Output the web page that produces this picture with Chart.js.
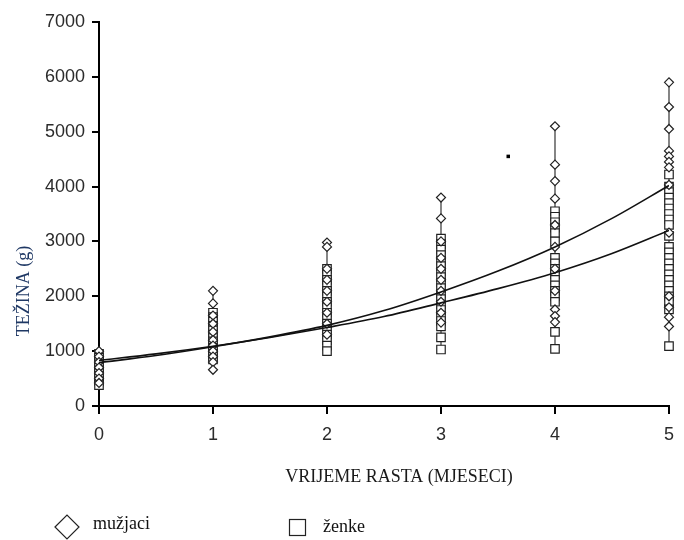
<!DOCTYPE html>
<html>
<head>
<meta charset="utf-8">
<script src="https://cdn.jsdelivr.net/npm/chart.js@4.4.1/dist/chart.umd.min.js"></script>
<style>
  html, body { margin: 0; padding: 0; background: #fff; }
  #wrap { width: 684px; height: 540px; position: relative; }
</style>
</head>
<body>
<div id="wrap"><canvas id="chartRast"></canvas></div>
<script>
// ===== TEŽINA vs VRIJEME RASTA =====

const months = [0, 1, 2, 3, 4, 5];

// izmjerene težine (g) po mjesecu
const maleWeights = [
  [1000, 900, 800, 700, 600, 500, 420],
  [2100, 1870, 1650, 1500, 1350, 1200, 1100, 1000, 900, 800, 660],
  [2980, 2900, 2500, 2300, 2100, 1900, 1700, 1500, 1300],
  [3800, 3420, 3000, 2700, 2500, 2300, 2100, 1900, 1700, 1520],
  [5100, 4400, 4100, 3780, 3300, 2900, 2500, 2100, 1760, 1640, 1530],
  [5900, 5450, 5050, 4650, 4550, 4450, 4350, 4030, 3160, 2000, 1800, 1620, 1450]
];
const femaleWeights = [
  [950, 880, 820, 760, 700, 650, 600, 550, 500, 450, 380],
  [1700, 1620, 1540, 1460, 1380, 1300, 1240, 1180, 1120, 1060, 1000, 950, 900, 850],
  [2500, 2400, 2300, 2200, 2100, 2000, 1900, 1800, 1700, 1600, 1500, 1400, 1300, 1200, 1100, 1000],
  [3050, 2950, 2850, 2750, 2650, 2550, 2450, 2350, 2250, 2150, 2050, 1950, 1850, 1750, 1650, 1550, 1450, 1250, 1030],
  [3550, 3450, 3350, 3250, 3150, 3000, 2700, 2600, 2500, 2400, 2300, 2200, 2100, 2000, 1900, 1350, 1040],
  [4220, 4000, 3900, 3800, 3700, 3600, 3500, 3400, 3300, 3100, 2900, 2800, 2700, 2600, 2500, 2400, 2300, 2200, 2100, 2000, 1900, 1760, 1090]
];

// krivulje rasta (očitane sa slike)
const fitMonths = [0, 0.5, 1, 1.5, 2, 2.5, 3, 3.5, 4, 4.5, 5];
const fitMale   = [790, 920, 1080, 1260, 1470, 1740, 2080, 2460, 2900, 3420, 4020];
const fitFemale = [830, 950, 1090, 1250, 1430, 1630, 1880, 2140, 2430, 2780, 3200];

const strayPoint = [{ x: 3.59, y: 4550 }];

const yTicks = [0, 1000, 2000, 3000, 4000, 5000, 6000, 7000];

const INK = '#222';
const SERIF = "'Liberation Serif', 'Times New Roman', serif";
const SANS = 'Arial, Helvetica, sans-serif';

const toPoints = (groups) => groups.flatMap((vals, i) => vals.map(v => ({ x: months[i], y: v })));

// okomite linije raspona za svaki mjesec
const whiskers = months.map((m, i) => {
  const all = maleWeights[i].concat(femaleWeights[i]);
  return {
    type: 'line',
    label: 'raspon ' + m,
    data: [{ x: m, y: Math.min(...all) }, { x: m, y: Math.max(...all) }],
    borderColor: '#444',
    borderWidth: 1.3,
    pointRadius: 0,
    clip: false
  };
});

const pluginTexts = {
  id: 'texts',
  afterDraw(chart) {
    const { ctx } = chart;
    ctx.save();
    // naslov osi Y
    ctx.translate(24, 291);
    ctx.rotate(-Math.PI / 2);
    ctx.fillStyle = '#1F3864';
    ctx.font = `18px ${SERIF}`;
    ctx.textAlign = 'center';
    ctx.textBaseline = 'middle';
    ctx.fillText('TEŽINA (g)', 0, 0);
    ctx.restore();

    ctx.save();
    ctx.fillStyle = '#1a1a1a';
    ctx.font = `18px ${SERIF}`;
    ctx.textAlign = 'center';
    ctx.textBaseline = 'middle';
    ctx.fillText('VRIJEME RASTA (MJESECI)', 399, 477);

    // legenda
    ctx.strokeStyle = INK;
    ctx.lineWidth = 1.2;
    ctx.fillStyle = '#fff';
    ctx.beginPath();
    ctx.moveTo(55, 527); ctx.lineTo(67, 515); ctx.lineTo(79, 527); ctx.lineTo(67, 539); ctx.closePath();
    ctx.fill(); ctx.stroke();
    ctx.strokeRect(289.5, 519.5, 16, 16);

    ctx.fillStyle = '#111';
    ctx.textAlign = 'left';
    ctx.fillText('mužjaci', 93, 524);
    ctx.fillText('ženke', 323, 527);
    ctx.restore();
  }
};

(function() {
  const el = document.getElementById('chartRast');
  new Chart(el, {
    type: 'scatter',
    data: {
      datasets: [
        {
          type: 'line', label: 'fit mužjaci',
          data: fitMonths.map((m, i) => ({ x: m, y: fitMale[i] })),
          borderColor: '#111', borderWidth: 1.6, pointRadius: 0,
          cubicInterpolationMode: 'monotone', fill: false
        },
        {
          type: 'line', label: 'fit ženke',
          data: fitMonths.map((m, i) => ({ x: m, y: fitFemale[i] })),
          borderColor: '#111', borderWidth: 1.6, pointRadius: 0,
          cubicInterpolationMode: 'monotone', fill: false
        },
        {
          label: 'mužjaci',
          data: toPoints(maleWeights),
          pointStyle: 'rectRot', pointRadius: 4.5,
          backgroundColor: '#fff', borderColor: INK, borderWidth: 1.2,
          clip: false
        },
        {
          label: 'ženke',
          data: toPoints(femaleWeights),
          pointStyle: 'rect', pointRadius: 6,
          backgroundColor: '#fff', borderColor: INK, borderWidth: 1.2,
          clip: false
        },
        {
          label: 'točka',
          data: strayPoint,
          pointStyle: 'rect', pointRadius: 2.5,
          backgroundColor: '#000', borderColor: '#000', borderWidth: 0
        },
        ...whiskers
      ]
    },
    options: {
      responsive: true, maintainAspectRatio: false,
      animation: false,
      layout: { padding: { left: 0, right: 6, top: 22, bottom: 0 } },
      plugins: {
        legend: { display: false },
        tooltip: { enabled: false }
      },
      scales: {
        x: {
          type: 'linear', min: 0, max: 5,
          afterFit: s => { s.height = 134; },
          border: { color: '#000', width: 2 },
          grid: { drawOnChartArea: false, tickLength: 8, color: '#000', lineWidth: 2 },
          ticks: { stepSize: 1, padding: 10, color: '#2b2b2b', font: { size: 18, family: SANS } }
        },
        y: {
          type: 'linear', min: 0, max: 7000,
          afterFit: s => { s.width = 99; },
          afterBuildTicks: s => { s.ticks = yTicks.map(v => ({ value: v })); },
          border: { color: '#000', width: 2 },
          grid: { drawOnChartArea: false, tickLength: 7, color: '#000', lineWidth: 2 },
          ticks: {
            padding: 7, color: '#2b2b2b', font: { size: 18, family: SANS },
            callback: v => String(v)
          }
        }
      }
    },
    plugins: [pluginTexts]
  });
})();
</script>
</body>
</html>
